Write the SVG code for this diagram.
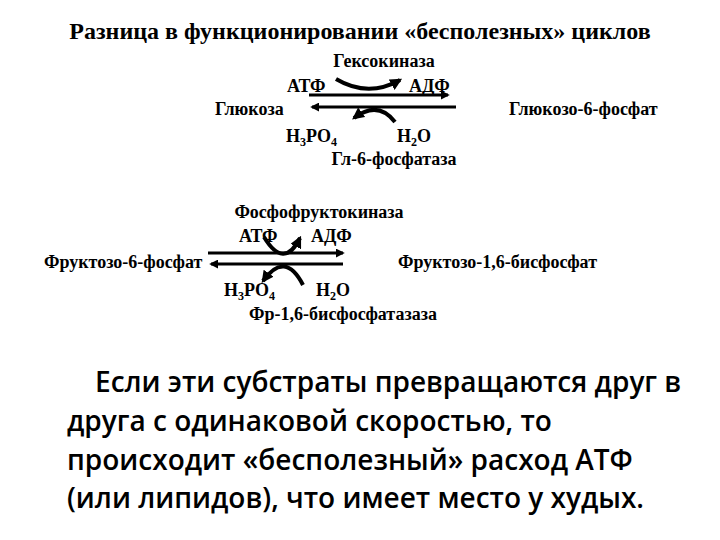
<svg xmlns="http://www.w3.org/2000/svg" width="720" height="540" viewBox="0 0 720 540">
<style>
.t{font-family:"Liberation Serif",serif;font-weight:bold;font-size:18px;fill:#000}
.h{font-family:"Liberation Serif",serif;font-weight:bold;font-size:24px;fill:#000}
.p{font-family:"Open Sans","Noto Sans",sans-serif;font-weight:600;font-size:28px;fill:#000}
.l{stroke:#000;stroke-width:3;fill:none}
.c{stroke:#000;stroke-width:4;fill:none}
</style>
<defs>
<marker id="a" viewBox="0 0 10 10" refX="8" refY="5" markerWidth="3" markerHeight="3" orient="auto"><path d="M0,0L10,5L0,10z" fill="#000"/></marker>
</defs>
<rect width="720" height="540" fill="#fff"/>
<text class="h" x="360" y="39" text-anchor="middle">Разница в функционировании «бесполезных» циклов</text>
<g id="cycle1">
<text class="t" x="384" y="67" text-anchor="middle">Гексокиназа</text>
<text class="t" x="287" y="92">АТФ</text>
<text class="t" x="409" y="92">АДФ</text>
<text class="t" x="215" y="115">Глюкоза</text>
<text class="t" x="509" y="115">Глюкозо-6-фосфат</text>
<text class="t" x="286" y="142">Н<tspan font-size="12" dy="4">3</tspan><tspan dy="-4">РО</tspan><tspan font-size="12" dy="4">4</tspan></text>
<text class="t" x="397" y="142">Н<tspan font-size="12" dy="4">2</tspan><tspan dy="-4">О</tspan></text>
<text class="t" x="394" y="165" text-anchor="middle">Гл-6-фосфатаза</text>
</g>
<g id="cycle2">
<text class="t" x="319" y="218" text-anchor="middle">Фосфофруктокиназа</text>
<text class="t" x="239" y="242">АТФ</text>
<text class="t" x="311" y="242">АДФ</text>
<text class="t" x="44" y="268">Фруктозо-6-фосфат</text>
<text class="t" x="398" y="268">Фруктозо-1,6-бисфосфат</text>
<text class="t" x="224" y="296">Н<tspan font-size="12" dy="4">3</tspan><tspan dy="-4">РО</tspan><tspan font-size="12" dy="4">4</tspan></text>
<text class="t" x="316" y="296">Н<tspan font-size="12" dy="4">2</tspan><tspan dy="-4">О</tspan></text>
<text class="t" x="343" y="320" text-anchor="middle">Фр-1,6-бисфосфатазаза</text>
</g>
<g id="connectors">
<line class="l" x1="309" y1="95" x2="448" y2="95" marker-end="url(#a)"/>
<line class="l" x1="456" y1="107" x2="312" y2="107" marker-end="url(#a)"/>
<path class="c" d="M336,79 Q368,98 400,80" marker-end="url(#a)"/>
<path class="c" d="M395,122 Q378,100 354,118" marker-end="url(#a)"/>
<line class="l" x1="208" y1="253" x2="343" y2="253" marker-end="url(#a)"/>
<line class="l" x1="343" y1="264" x2="211" y2="264" marker-end="url(#a)"/>
<path class="c" d="M264,237 Q284,270 300,238" marker-end="url(#a)"/>
<path class="c" d="M303,285 Q285,250 263,281" marker-end="url(#a)"/>
</g>
<text class="p" x="95" y="392">Если эти субстраты превращаются друг в</text>
<text class="p" x="67" y="431">друга с одинаковой скоростью, то</text>
<text class="p" x="67" y="470">происходит «бесполезный» расход АТФ</text>
<text class="p" x="67" y="508">(или липидов), что имеет место у худых.</text>
</svg>
